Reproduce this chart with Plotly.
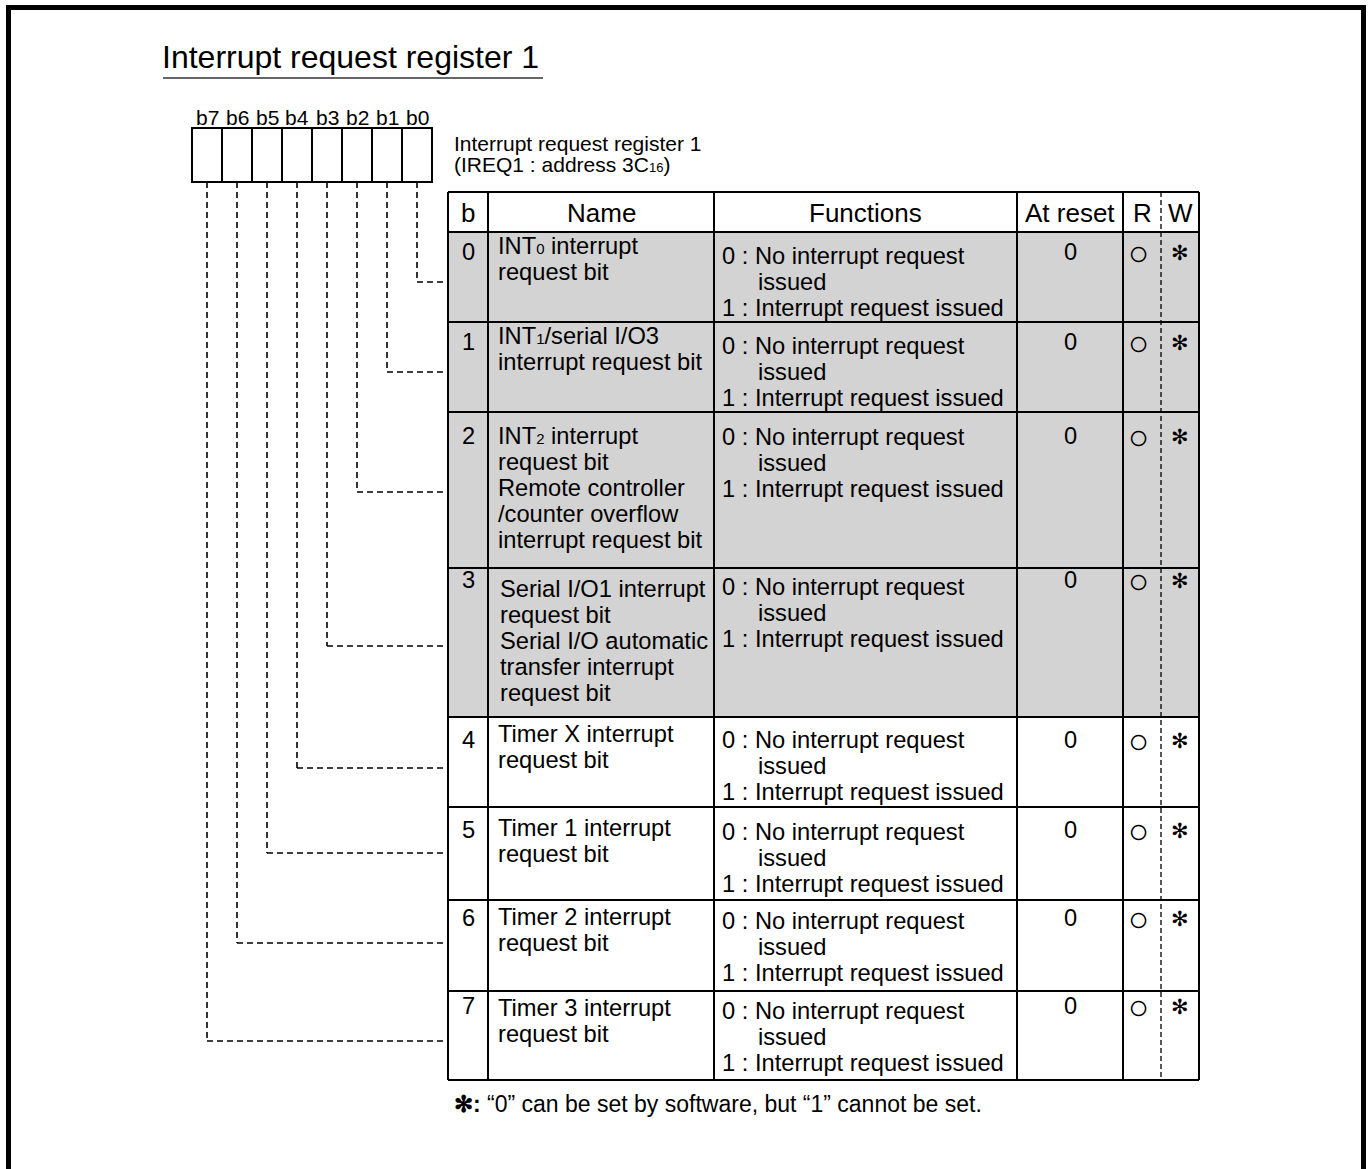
import plotly.graph_objects as go

# ---------------- data ----------------
title_text = "Interrupt request register 1"
reg_name = "Interrupt request register 1"
SUB = '<span style="font-size:15px">{}</span>'
reg_addr = "(IREQ1 : address 3C" + '<span style="font-size:13px">16</span>' + ")"
bit_labels = ["b7", "b6", "b5", "b4", "b3", "b2", "b1", "b0"]
headers = ["b", "Name", "Functions", "At reset", "R", "W"]
bits = ["0", "1", "2", "3", "4", "5", "6", "7"]
names = [
    ["INT" + SUB.format("0") + " interrupt", "request bit"],
    ["INT" + SUB.format("1") + "/serial I/O3", "interrupt request bit"],
    ["INT" + SUB.format("2") + " interrupt", "request bit", "Remote controller", "/counter overflow", "interrupt request bit"],
    ["Serial I/O1 interrupt", "request bit", "Serial I/O automatic", "transfer interrupt", "request bit"],
    ["Timer X interrupt", "request bit"],
    ["Timer 1 interrupt", "request bit"],
    ["Timer 2 interrupt", "request bit"],
    ["Timer 3 interrupt", "request bit"],
]
func_lines = ["0 : No interrupt request", "issued", "1 : Interrupt request issued"]
functions = [func_lines] * 8
reset_vals = ["0"] * 8
read_marks = ["○"] * 8
write_marks = ["✻"] * 8
shaded = [True, True, True, True, False, False, False, False]
footnote = "<b>✻:</b> “0” can be set by software, but “1” cannot be set."

# ---------------- layout geometry ----------------
W, H = 1369, 1169
FONT = "Liberation Sans, Arial, Helvetica, sans-serif"
box_left, box_w, box_top, box_bot = 192, 30, 128, 182
col_x = [448, 488, 714, 1017, 1123, 1161, 1199]
hdr_top, hdr_bot = 192, 232
row_tops = [232, 322, 412, 568, 717, 807, 900, 991, 1080]
bit_off = [20, 20, 24, 12, 23, 23, 18, 15]
name_off = [14, 14, 24, 21, 17, 21, 17, 17]
func_off = [24, 24, 25, 19, 23, 25, 21, 20]
name_x = [496, 496, 496, 498, 496, 496, 496, 496]
conn_y = [282, 372, 492, 646, 768, 853, 943, 1041]
line_step = 26
GRAY = "#d3d3d3"
BODY = 23.7

shapes = []
annotations = []

def line(x0, y0, x1, y1, width=2, color="black", dash=None):
    d = dict(type="line", x0=x0, y0=y0, x1=x1, y1=y1, xref="x", yref="y",
             line=dict(color=color, width=width))
    if dash:
        d["line"]["dash"] = dash
    shapes.append(d)

def text(x, y, s, size=BODY, xanchor="left", color="black"):
    annotations.append(dict(x=x, y=y, xref="x", yref="y", text=s, showarrow=False,
                            xanchor=xanchor, yanchor="middle",
                            font=dict(family=FONT, size=size, color=color)))

# outer frame
line(8.5, 7.5, 1363.5, 7.5, width=5)
line(8.5, 5, 8.5, H + 10, width=5)
line(1363.5, 5, 1363.5, H + 10, width=5)

# title + underline
text(160, 57, title_text, size=32)
line(163, 78, 543, 78, width=1.5, color="#333333")

# bit boxes
for i, lab in enumerate(bit_labels):
    x0 = box_left + i * box_w
    shapes.append(dict(type="rect", x0=x0, x1=x0 + box_w, y0=box_top, y1=box_bot,
                       xref="x", yref="y", line=dict(color="black", width=2)))
    text(x0 + box_w / 2, 117, lab, size=21, xanchor="center")

# register description
text(452, 143, reg_name, size=21)
text(452, 164, reg_addr, size=21)

# shaded rows
for r, sh in enumerate(shaded):
    if sh:
        shapes.append(dict(type="rect", x0=col_x[0], x1=col_x[-1], y0=row_tops[r], y1=row_tops[r + 1],
                           xref="x", yref="y", fillcolor=GRAY, line=dict(width=0), layer="below"))

# connectors (b0 is rightmost box)
for k in range(8):
    box_index = 7 - k
    cx = box_left + box_index * box_w + box_w / 2
    line(cx, box_bot, cx, conn_y[k], width=1.6, dash="6px,4px")
    line(cx, conn_y[k], col_x[0], conn_y[k], width=1.6, dash="6px,4px")

# table grid
line(col_x[0], hdr_top, col_x[-1], hdr_top)
line(col_x[0], hdr_bot, col_x[-1], hdr_bot)
for yb in row_tops[1:]:
    line(col_x[0], yb, col_x[-1], yb)
for i, xc in enumerate(col_x):
    if i == 5:
        line(xc, hdr_top, xc, row_tops[-1], width=1.3, dash="5px,3px")
    else:
        line(xc, hdr_top, xc, row_tops[-1])

# header text
hdr_y = 213
for i, h in enumerate(headers):
    text((col_x[i] + col_x[i + 1]) / 2, hdr_y, h, size=26, xanchor="center")

# rows
for r in range(8):
    top = row_tops[r]
    yb = top + bit_off[r]
    text((col_x[0] + col_x[1]) / 2, yb, bits[r], xanchor="center")
    text((col_x[3] + col_x[4]) / 2, yb, reset_vals[r], xanchor="center")
    text((col_x[4] + col_x[5]) / 2 - 4, yb, read_marks[r], size=35, xanchor="center")
    text((col_x[5] + col_x[6]) / 2, yb, write_marks[r], size=21, xanchor="center")
    for j, s in enumerate(names[r]):
        text(name_x[r], top + name_off[r] + j * line_step, s)
    for j, s in enumerate(functions[r]):
        fx = 756 if j == 1 else 720
        text(fx, top + func_off[r] + j * line_step, s)

# footnote
text(452, 1104, footnote, size=23)

fig = go.Figure()
fig.update_layout(
    width=W, height=H, margin=dict(l=0, r=0, t=0, b=0),
    paper_bgcolor="white", plot_bgcolor="white",
    xaxis=dict(range=[0, W], visible=False, fixedrange=True),
    yaxis=dict(range=[H, 0], visible=False, fixedrange=True),
    shapes=shapes, annotations=annotations, showlegend=False,
)
fig.write_html("out.html", config={"displayModeBar": False, "staticPlot": True},
               post_script="document.body.style.margin='0';document.body.style.overflow='hidden';")
